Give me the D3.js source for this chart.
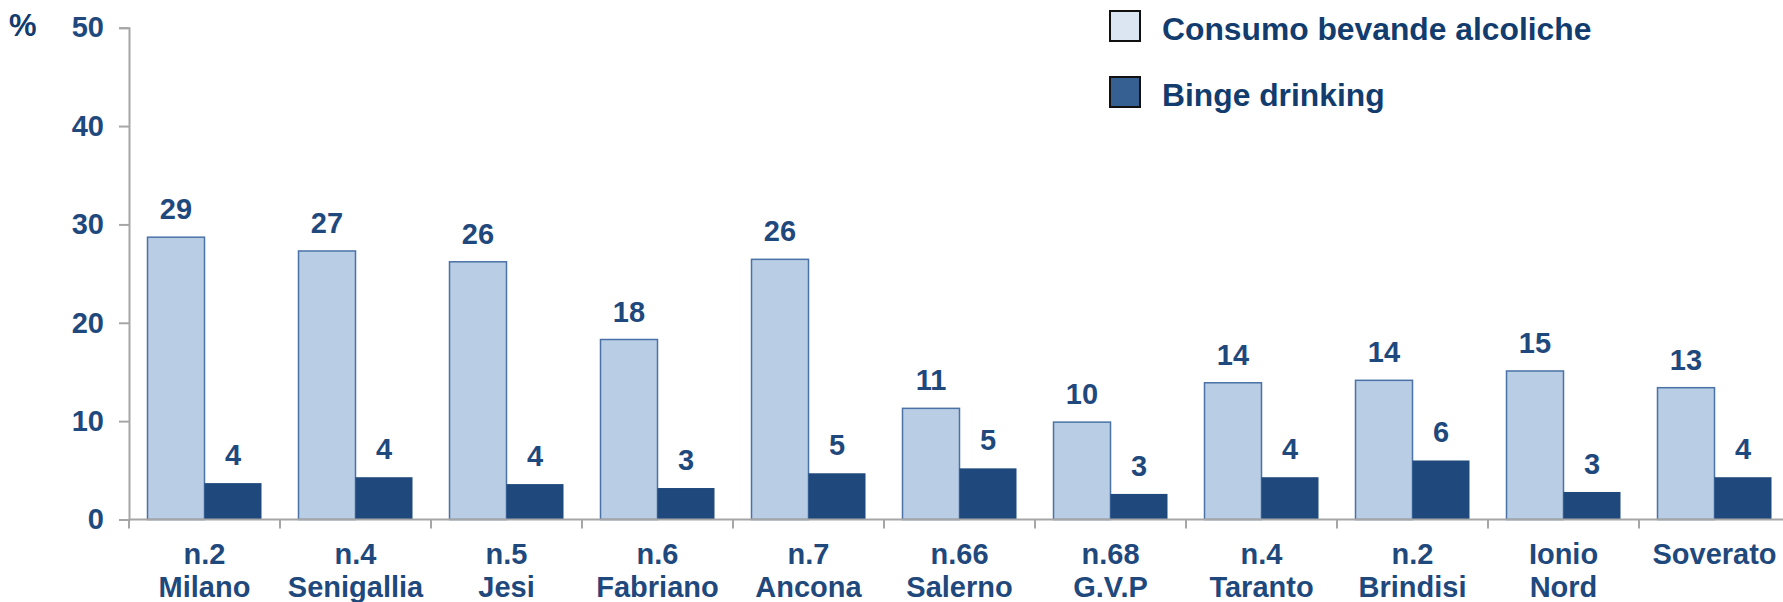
<!DOCTYPE html>
<html>
<head>
<meta charset="utf-8">
<script src="https://cdn.jsdelivr.net/npm/d3@7"></script>
<style>
  html, body { margin: 0; padding: 0; background: #ffffff; }
  svg { display: block; }
  text { font-family: "Liberation Sans", Arial, sans-serif; font-weight: bold; }
</style>
</head>
<body>
<svg id="chart" width="1783" height="602"></svg>
<script>
// ---- Data ----
const categories = ["n.2 Milano", "n.4 Senigallia", "n.5 Jesi", "n.6 Fabriano", "n.7 Ancona",
  "n.66 Salerno", "n.68 G.V.P", "n.4 Taranto", "n.2 Brindisi", "Ionio Nord", "Soverato"];
const categoryLines = [["n.2", "Milano"], ["n.4", "Senigallia"], ["n.5", "Jesi"], ["n.6", "Fabriano"],
  ["n.7", "Ancona"], ["n.66", "Salerno"], ["n.68", "G.V.P"], ["n.4", "Taranto"], ["n.2", "Brindisi"],
  ["Ionio", "Nord"], ["Soverato"]];
const seriesNames = ["Consumo bevande alcoliche", "Binge drinking"];
const consumo = [28.7, 27.3, 26.2, 18.3, 26.45, 11.3, 9.9, 13.9, 14.15, 15.1, 13.4];
const binge = [3.7, 4.3, 3.6, 3.2, 4.7, 5.2, 2.6, 4.3, 6.0, 2.8, 4.3];
const yTicks = [0, 10, 20, 30, 40, 50];

// ---- Layout ----
const svg = d3.select("#chart");
const x0Start = 129, step = 151;
const x0End = x0Start + step * categories.length;
const yBottom = 519.5, yTop = 27.7;
const pad = 37 / 151;

const x0 = d3.scaleBand().domain(categories).range([x0Start, x0End])
  .paddingInner(pad).paddingOuter(pad / 2);
const x1 = d3.scaleBand().domain(["c", "b"]).range([0, x0.bandwidth()]).padding(0);
const y = d3.scaleLinear().domain([0, 50]).range([yBottom, yTop]);

const textColor = "#1F497D";
const axisColor = "#A6A6A6";

// ---- Y axis ----
const yAxis = svg.append("g").attr("transform", `translate(${x0Start},0)`)
  .call(d3.axisLeft(y).tickValues(yTicks).tickSize(10).tickPadding(15).tickFormat(d3.format("d")));
yAxis.select(".domain").attr("stroke", axisColor).attr("stroke-width", 2);
yAxis.selectAll(".tick line").attr("stroke", axisColor).attr("stroke-width", 2);
yAxis.selectAll(".tick text").attr("fill", textColor).attr("font-size", 29)
  .attr("font-weight", "bold").attr("font-family", "Liberation Sans, Arial, sans-serif");

svg.append("text").attr("x", 9).attr("y", 36).attr("font-size", 31)
  .attr("fill", "#123C6E").text("%");

// ---- Bars ----
const groups = svg.append("g").selectAll("g").data(categories).join("g")
  .attr("transform", d => `translate(${x0(d)},0)`);

groups.append("rect")
  .attr("x", x1("c")).attr("width", x1.bandwidth())
  .attr("y", (d, i) => y(consumo[i])).attr("height", (d, i) => y(0) - y(consumo[i]))
  .attr("fill", "#B9CDE5").attr("stroke", "#4A72A6").attr("stroke-width", 1.5);

groups.append("rect")
  .attr("x", x1("b")).attr("width", x1.bandwidth())
  .attr("y", (d, i) => y(binge[i])).attr("height", (d, i) => y(0) - y(binge[i]))
  .attr("fill", "#1F497D");

groups.append("text")
  .attr("x", x1("c") + x1.bandwidth() / 2).attr("y", (d, i) => y(consumo[i]) - 18)
  .attr("text-anchor", "middle").attr("font-size", 29).attr("fill", textColor)
  .text((d, i) => Math.round(consumo[i]));

groups.append("text")
  .attr("x", x1("b") + x1.bandwidth() / 2).attr("y", (d, i) => y(binge[i]) - 18)
  .attr("text-anchor", "middle").attr("font-size", 29).attr("fill", textColor)
  .text((d, i) => Math.round(binge[i]));

// ---- X axis ----
const xg = svg.append("g");
xg.append("line").attr("x1", x0Start).attr("x2", x0End).attr("y1", y(0)).attr("y2", y(0))
  .attr("stroke", axisColor).attr("stroke-width", 2);
xg.selectAll(".btick").data(d3.range(categories.length + 1)).join("line")
  .attr("x1", i => x0Start + x0.step() * i).attr("x2", i => x0Start + x0.step() * i)
  .attr("y1", y(0)).attr("y2", y(0) + 9)
  .attr("stroke", axisColor).attr("stroke-width", 2);

const labels = xg.selectAll(".clabel").data(categories).join("text")
  .attr("text-anchor", "middle").attr("font-size", 29).attr("fill", textColor)
  .attr("transform", d => `translate(${x0(d) + x0.bandwidth() / 2},0)`);
labels.each(function (d, i) {
  const t = d3.select(this);
  categoryLines[i].forEach((line, j) => {
    t.append("tspan").attr("x", 0).attr("y", 564 + j * 33).text(line);
  });
});

// ---- Legend ----
const legendFills = ["#DCE6F2", "#376092"];
const legend = svg.append("g").selectAll("g").data(seriesNames).join("g")
  .attr("transform", (d, i) => `translate(1110,${11 + i * 66})`);
legend.append("rect").attr("width", 30).attr("height", 30)
  .attr("fill", (d, i) => legendFills[i]).attr("stroke", "#111111").attr("stroke-width", 2);
legend.append("text").attr("x", 52).attr("y", 29).attr("font-size", 31.8)
  .attr("fill", "#123C6E").text(d => d);
</script>
</body>
</html>
